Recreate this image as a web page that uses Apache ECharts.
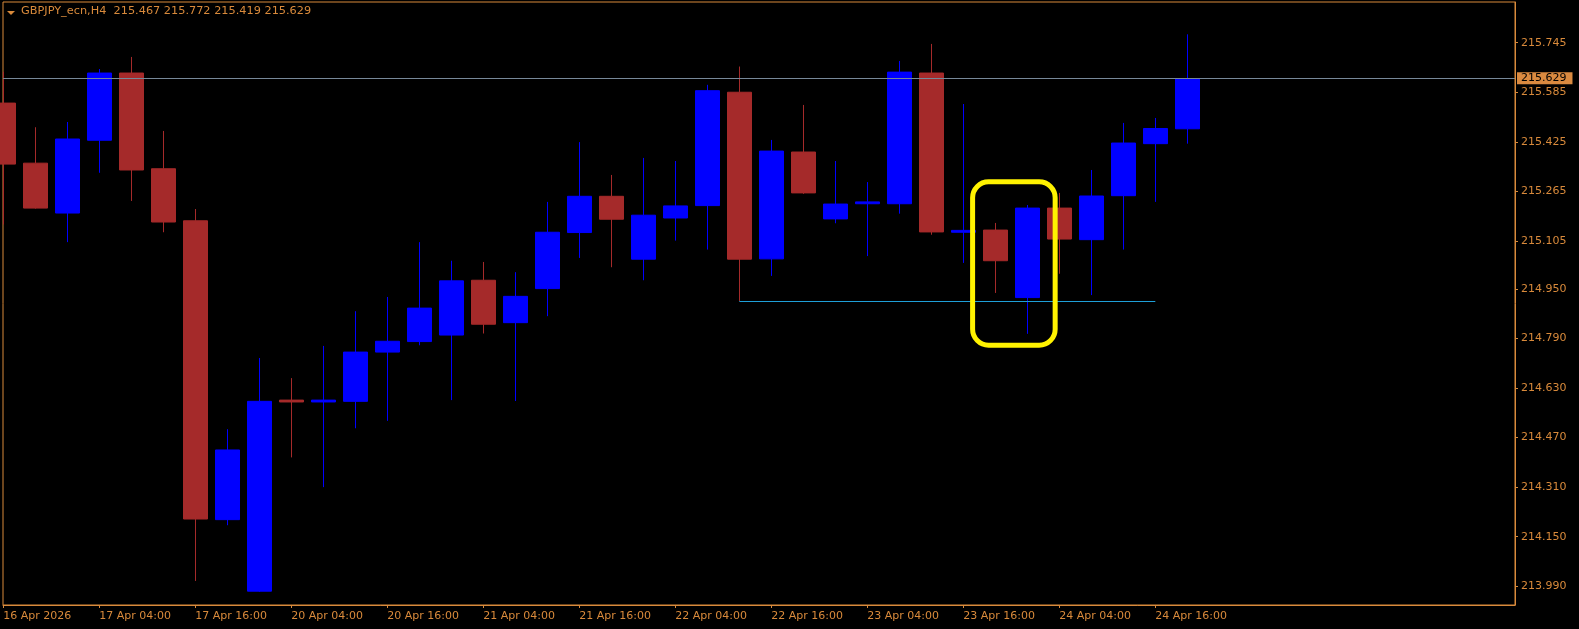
<!DOCTYPE html>
<html>
<head>
<meta charset="utf-8">
<script src="https://cdn.jsdelivr.net/npm/echarts@6/dist/echarts.min.js"></script>
<style>
html,body{margin:0;padding:0;background:#000;}
#c{width:1579px;height:629px;}
</style>
</head>
<body>
<div id="c"></div>
<script>
// ---- data ----
const symbolName = 'GBPJPY_ecn,H4';
const times = [
  '2026.04.16 16:00','2026.04.16 20:00',
  '2026.04.17 00:00','2026.04.17 04:00','2026.04.17 08:00','2026.04.17 12:00','2026.04.17 16:00','2026.04.17 20:00',
  '2026.04.20 00:00','2026.04.20 04:00','2026.04.20 08:00','2026.04.20 12:00','2026.04.20 16:00','2026.04.20 20:00',
  '2026.04.21 00:00','2026.04.21 04:00','2026.04.21 08:00','2026.04.21 12:00','2026.04.21 16:00','2026.04.21 20:00',
  '2026.04.22 00:00','2026.04.22 04:00','2026.04.22 08:00','2026.04.22 12:00','2026.04.22 16:00','2026.04.22 20:00',
  '2026.04.23 00:00','2026.04.23 04:00','2026.04.23 08:00','2026.04.23 12:00','2026.04.23 16:00','2026.04.23 20:00',
  '2026.04.24 00:00','2026.04.24 04:00','2026.04.24 08:00','2026.04.24 12:00','2026.04.24 16:00','2026.04.24 20:00'
];
const opens  = [215.550,215.356,215.195,215.430,215.647,215.338,215.170,214.205,213.974,214.591,
                214.585,214.587,214.746,214.780,214.801,214.978,214.841,214.951,215.132,215.249,
                215.046,215.179,215.219,215.585,215.047,215.392,215.176,215.225,215.225,215.647,
                215.133,215.140,214.922,215.211,215.109,215.251,215.419,215.467];
const closes = [215.353,215.211,215.434,215.647,215.334,215.166,214.207,214.430,214.587,214.585,
                214.591,214.746,214.781,214.888,214.976,214.836,214.926,215.133,215.249,215.175,
                215.188,215.218,215.590,215.046,215.395,215.260,215.224,215.231,215.650,215.134,
                215.139,215.041,215.211,215.111,215.250,215.421,215.468,215.629];
const lows   = [215.158,215.209,215.101,215.325,215.234,215.133,214.007,214.187,213.972,214.406,
                214.310,214.500,214.524,214.768,214.591,214.806,214.588,214.862,215.050,215.020,
                214.978,215.106,215.077,214.911,214.992,215.257,215.162,215.056,215.193,215.125,
                215.034,214.937,214.805,214.999,214.930,215.077,215.231,215.419];
const highs  = [215.651,215.472,215.489,215.660,215.699,215.460,215.208,214.497,214.727,214.662,
                214.766,214.878,214.924,215.101,215.041,215.037,215.004,215.231,215.424,215.318,
                215.373,215.363,215.609,215.668,215.431,215.544,215.363,215.295,215.686,215.741,
                215.547,215.163,215.221,215.260,215.334,215.486,215.502,215.772];
const xTickIndex  = [0,3,6,9,12,15,18,21,24,27,30,33,36];
const xTickLabels = ['16 Apr 2026','17 Apr 04:00','17 Apr 16:00','20 Apr 04:00','20 Apr 16:00',
                     '21 Apr 04:00','21 Apr 16:00','22 Apr 04:00','22 Apr 16:00','23 Apr 04:00',
                     '23 Apr 16:00','24 Apr 04:00','24 Apr 16:00'];
const yTickValues = [215.745,215.585,215.425,215.265,215.105,214.950,214.790,214.630,214.470,214.310,214.150,213.990];
const bidPrice = 215.629;
const levelLine = [23, 36, 214.911];            // from candle, to candle, price
const highlightBox = [30.29, 32.87, 215.296, 214.768]; // x from, x to, price top, price bottom

// ---- chart ----
const FG = '#D98A3B';
const FONT = 'DejaVu Sans';
const last = opens.length - 1;
const candles = opens.map((o, i) => [i, o, closes[i], lows[i], highs[i]]);
const titleText = symbolName + '  ' + [opens[last], highs[last], lows[last], closes[last]].map(v => v.toFixed(3)).join(' ');

const chart = echarts.init(document.getElementById('c'), null, {renderer: 'canvas'});
chart.setOption({
  backgroundColor: '#000000',
  animation: false,
  title: {
    text: titleText, left: 21, top: 6, padding: 0,
    textStyle: {color: FG, fontFamily: FONT, fontSize: 11.3, fontWeight: 'normal'}
  },
  graphic: [{
    type: 'polygon', silent: true,
    shape: {points: [[7, 11], [15, 11], [11, 15]]},
    style: {fill: FG}
  }],
  grid: {
    left: 3, right: 64, top: 2, bottom: 24,
    show: true, borderColor: FG, borderWidth: 1, backgroundColor: 'transparent'
  },
  xAxis: {
    type: 'value', min: -0.01, max: 47.24,
    splitLine: {show: false},
    axisLine: {show: true, onZero: false, lineStyle: {color: FG, width: 1}},
    axisTick: {show: true, length: 3, lineStyle: {color: FG}, customValues: xTickIndex},
    axisLabel: {
      show: true, customValues: xTickIndex, align: 'left', margin: 6,
      color: FG, fontFamily: FONT, fontSize: 11,
      formatter: v => { const k = xTickIndex.indexOf(Math.round(v)); return k >= 0 ? xTickLabels[k] : ''; }
    }
  },
  yAxis: {
    type: 'value', position: 'right', min: 213.9294, max: 215.8764, scale: true,
    splitLine: {show: false},
    axisLine: {show: true, onZero: false, lineStyle: {color: FG, width: 1}},
    axisTick: {show: true, length: 3, lineStyle: {color: FG}, customValues: yTickValues},
    axisLabel: {
      show: true, customValues: yTickValues, margin: 6,
      color: FG, fontFamily: FONT, fontSize: 11,
      formatter: v => v.toFixed(3)
    }
  },
  series: [
    {
      type: 'candlestick',
      data: candles,
      barWidth: 24,
      clip: true,
      silent: true,
      itemStyle: {
        color: '#0000FF', color0: '#A52A2A',
        borderColor: '#0000FF', borderColor0: '#A52A2A', borderWidth: 1
      },
      emphasis: {disabled: true},
      markLine: {
        silent: true, animation: false,
        symbol: ['none', 'none'],
        label: {show: false},
        data: [
          {
            yAxis: bidPrice,
            lineStyle: {color: '#778899', width: 1, type: 'solid'},
            label: {
              show: true, position: 'end', distance: 2,
              formatter: bidPrice.toFixed(3),
              color: '#000000', backgroundColor: '#DA8A40',
              fontFamily: FONT, fontSize: 11, padding: [1, 6, 0, 4]
            }
          },
          [
            {coord: [levelLine[0], levelLine[2]], lineStyle: {color: '#1E9FD8', width: 1, type: 'solid'}},
            {coord: [levelLine[1], levelLine[2]]}
          ]
        ]
      }
    },
    {
      type: 'custom',
      silent: true,
      z: 10,
      data: [highlightBox],
      encode: {x: [0, 1], y: [2, 3]},
      renderItem: (params, api) => {
        const a = api.coord([api.value(0), api.value(2)]);
        const b = api.coord([api.value(1), api.value(3)]);
        return {
          type: 'rect',
          shape: {x: a[0], y: a[1], width: b[0] - a[0], height: b[1] - a[1], r: 16},
          style: {fill: 'none', stroke: '#FFF200', lineWidth: 5}
        };
      }
    }
  ]
});
</script>
</body>
</html>
